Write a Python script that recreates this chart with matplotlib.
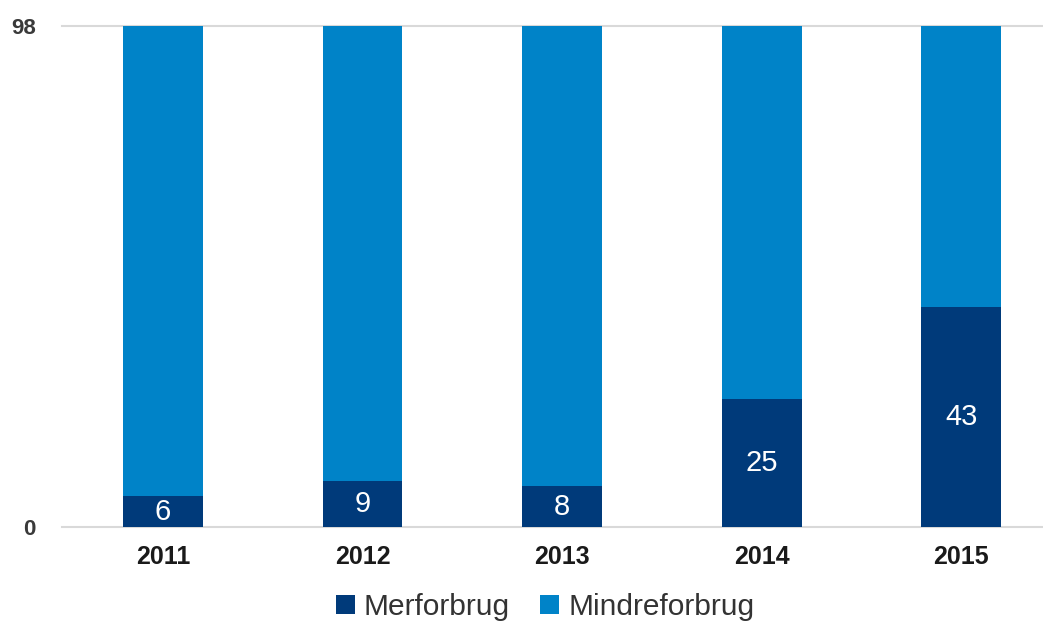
import matplotlib
matplotlib.use("Agg")
import matplotlib.pyplot as plt
import numpy as np

years = ["2011", "2012", "2013", "2014", "2015"]
merforbrug = [6, 9, 8, 25, 43]
total = [98, 98, 98, 98, 98]
mindreforbrug = [t - m for t, m in zip(total, merforbrug)]
yticks = [0, 98]

plt.rcParams['font.family'] = ['Liberation Sans', 'DejaVu Sans']

dark = "#003a7a"
light = "#0083c8"

fig = plt.figure(figsize=(10.43, 6.23), dpi=100)
ax = fig.add_axes([62/1043, 1-527/623, 1-62/1043, (527-26)/623])

x = np.arange(len(years))
w = 0.4
b1 = ax.bar(x, merforbrug, width=w, color=dark, label="Merforbrug", zorder=3)
b2 = ax.bar(x, mindreforbrug, width=w, bottom=merforbrug, color=light, label="Mindreforbrug", zorder=3)

for xi, v in zip(x, merforbrug):
    ax.text(xi, v/2, str(v), ha='center', va='center', color='white', fontsize=21, zorder=4)

ax.set_xlim(-0.506, 4.41)
ax.set_ylim(0, 98)
ax.set_yticks(yticks)
ax.set_yticklabels([str(t) for t in yticks], fontsize=16, fontweight='bold', color='#3a3a3a')
ax.set_xticks(x)
ax.set_xticklabels(years, fontsize=18, fontweight='bold', color='#1a1a1a')
ax.tick_params(axis='both', length=0)
ax.tick_params(axis='y', pad=19)
ax.tick_params(axis='x', pad=13)
for s in ax.spines.values():
    s.set_visible(False)
for t in yticks:
    ax.axhline(t, color='#d9d9d9', lw=1.5, zorder=1, clip_on=False)

fig.legend(handles=[b1, b2], labels=["Merforbrug", "Mindreforbrug"], loc='center',
           bbox_to_anchor=(545/1043, 1-607/623), ncol=2, frameon=False,
           fontsize=21.5, handlelength=0.65, handleheight=0.65, handletextpad=0.3,
           columnspacing=1.0, labelcolor='#333333')

fig.savefig("out.png", dpi=100)
